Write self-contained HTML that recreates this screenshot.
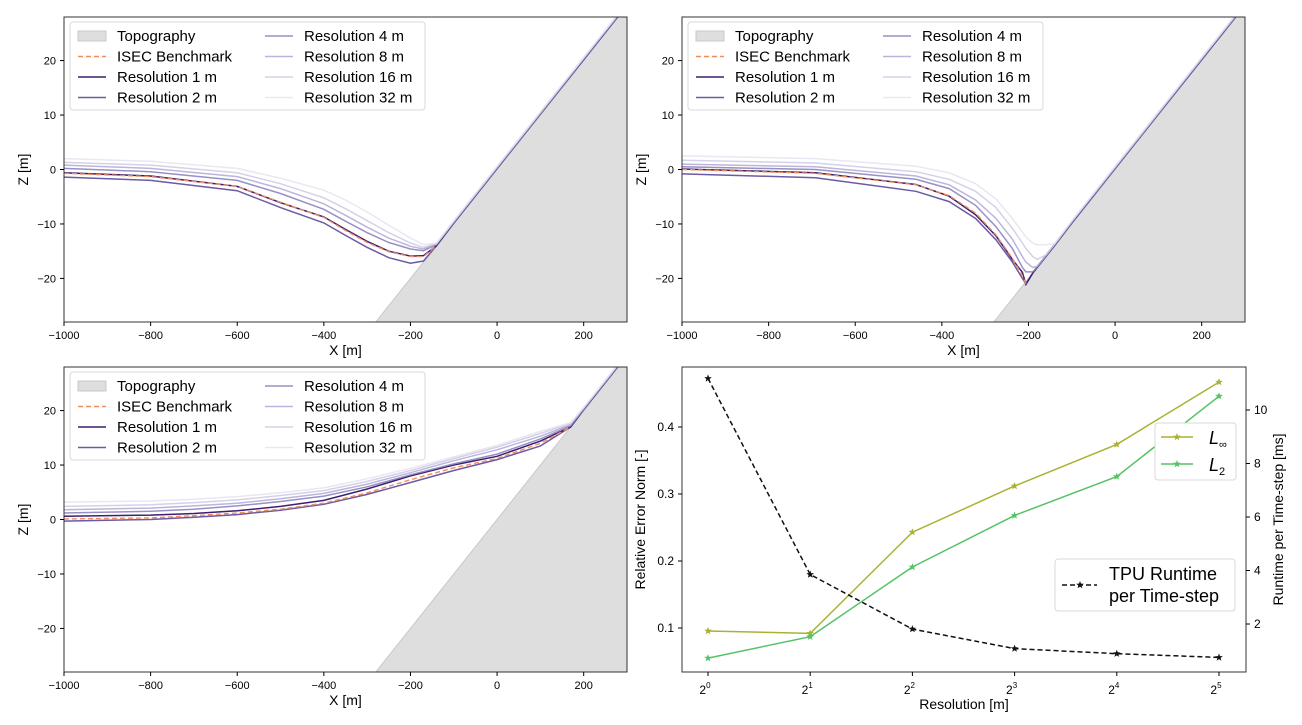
<!DOCTYPE html>
<html><head><meta charset="utf-8"><style>
body{margin:0;background:#fff;}
svg{display:block;font-family:"Liberation Sans","DejaVu Sans",sans-serif;}
</style></head><body>
<svg id="fig" width="1302" height="725" viewBox="0 0 1302 725"></svg>
<script>
// ---------- data ----------
const xTicks = [-1000,-800,-600,-400,-200,0,200];
const zTicks = [-20,-10,0,10,20];
const seriesNames = ["ISEC Benchmark","Resolution 1 m","Resolution 2 m","Resolution 4 m","Resolution 8 m","Resolution 16 m","Resolution 32 m"];
// panel A
const pAx = [-1000,-800,-600,-500,-400,-350,-300,-250,-200,-170,-140,-100,0,100,200,300];
const pA_isec = [-0.7,-1.3,-3.1,-6.0,-8.8,-11.2,-13.4,-15.1,-16.0,-16.0,-14];
const pA_r1 = [-0.6,-1.2,-3.1,-6.1,-8.7,-11.0,-13.2,-15.0,-15.9,-15.8,-14,-9.8,0.2,10.2,20.2,30.2];
const pA_r2 = [-1.4,-2.0,-3.9,-7.0,-9.8,-12.1,-14.3,-16.2,-17.2,-16.8,-14,-9.8,0.2,10.2,20.2,30.2];
const pA_r4 = [0.2,-0.4,-2.0,-4.4,-7.3,-9.5,-11.6,-13.4,-14.6,-14.9,-13.8,-9.7,0.3,10.3,20.3,30.3];
const pA_r8 = [0.8,0.2,-1.3,-3.5,-6.3,-8.4,-10.6,-12.6,-14.1,-14.6,-13.7,-9.6,0.4,10.4,20.4,30.4];
const pA_r16 = [1.3,0.8,-0.6,-2.6,-5.2,-7.2,-9.4,-11.6,-13.5,-14.3,-13.6,-9.5,0.5,10.5,20.5,30.5];
const pA_r32 = [2.0,1.5,0.2,-1.6,-3.8,-5.6,-7.8,-10.2,-12.6,-13.8,-13.5,-9.4,0.6,10.6,20.6,30.6];
// panel B
const pBx = [-1000,-692,-460,-383,-322,-275,-237,-214,-206,-190,-180,-160,-140,-100,0,100,200,300];
const pB_isec = [0.0,-0.7,-2.8,-4.8,-8.0,-12.0,-16.3,-19.5,-21.0];
const pB_r1 = [0.1,-0.6,-2.75,-4.9,-8.3,-12.2,-16.5,-18.9,-21.1,-19.0,-18.0,-16.0,-14,-9.8,0.2,10.2,20.2,30.2];
const pB_r2 = [-0.8,-1.5,-4.0,-5.9,-9.0,-12.9,-17.0,-20.0,-21.0,-19.0,-18.0,-16.0,-14,-9.8,0.2,10.2,20.2,30.2];
const pB_r4 = [0.5,0.0,-1.8,-3.5,-6.6,-10.5,-14.5,-18.0,-18.8,-18.8,-17.9,-15.9,-13.9,-9.7,0.3,10.3,20.3,30.3];
const pB_r8 = [1.0,0.5,-1.2,-2.8,-5.6,-9.0,-12.8,-16.0,-17.0,-18.0,-17.8,-15.8,-13.8,-9.6,0.4,10.4,20.4,30.4];
const pB_r16 = [1.7,1.2,-0.4,-1.8,-4.0,-7.0,-10.8,-13.5,-14.5,-16.0,-16.5,-15.7,-13.7,-9.5,0.5,10.5,20.5,30.5];
const pB_r32 = [2.5,2.0,0.6,-0.6,-2.6,-5.4,-9.0,-11.5,-12.4,-13.5,-13.8,-13.8,-13.6,-9.4,0.6,10.6,20.6,30.6];
// panel C
const pCx = [-1000,-800,-700,-600,-500,-400,-300,-200,-100,0,100,170,200,300];
const pC_isec = [0.1,0.3,0.7,1.2,1.9,3.0,4.9,7.3,9.5,11.2,14.0,17.0];
const pC_r1 = [0.6,0.8,1.1,1.6,2.4,3.5,5.6,8.0,10.0,11.6,14.4,17.0,20.2,30.2];
const pC_r2 = [-0.3,0.0,0.4,0.9,1.7,2.8,4.6,6.8,9.0,11.0,13.5,17.0,20.2,30.2];
const pC_r4 = [1.2,1.5,1.9,2.5,3.3,4.3,6.0,8.2,10.2,12.0,14.8,17.2,20.3,30.3];
const pC_r8 = [1.8,2.1,2.5,3.0,3.8,4.8,6.5,8.6,10.8,12.8,15.3,17.4,20.4,30.4];
const pC_r16 = [2.4,2.7,3.1,3.6,4.4,5.3,7.0,9.0,11.2,13.3,15.8,17.6,20.5,30.5];
const pC_r32 = [3.2,3.4,3.7,4.2,4.9,5.8,7.5,9.4,11.5,13.6,16.2,17.8,20.6,30.6];
// topography
const topoX = [-1000,-280,300];
const topoZ = [-28,-28,30];
// panel D
const resExp = [0,1,2,3,4,5];
const errLinf = [0.0955,0.092,0.243,0.312,0.374,0.467];
const errL2 = [0.055,0.087,0.191,0.268,0.326,0.446];
const runtime = [11.18,3.85,1.81,1.08,0.89,0.75];
const errTicks = [0.1,0.2,0.3,0.4];
const rtTicks = [2,4,6,8,10];

const NS="http://www.w3.org/2000/svg";
const svg=document.getElementById('fig');
function mk(tag,attrs,parent){const e=document.createElementNS(NS,tag);for(const k in attrs)e.setAttribute(k,attrs[k]);(parent||svg).appendChild(e);return e;}
function txt(s,x,y,size,anchor,parent,rot){const t=mk('text',{x:x,y:y,'font-size':size,'text-anchor':anchor||'middle',fill:'#000'},parent);if(rot)t.setAttribute('transform','rotate(-90 '+x+' '+y+')');t.textContent=s;return t;}

const styles=[
 {c:'#f28e5c',w:1.4,d:'5,3',o:1},
 {c:'#3b1f73',w:1.5,d:'',o:1},
 {c:'#6b5aa6',w:1.5,d:'',o:1},
 {c:'#8c84bd',w:1.5,d:'',o:0.9},
 {c:'#aaa3d2',w:1.5,d:'',o:0.8},
 {c:'#c9c5e2',w:1.5,d:'',o:0.8},
 {c:'#e6e4f1',w:1.5,d:'',o:0.9}];

function profilePanel(name,L,T,xs,series){
  const W=563,H=305;
  const sx=v=>L+(v+1000)/1300*W;
  const sz=v=>T+H/2-v*H/56;
  const g=mk('g',{});
  const cp='clip-'+name;
  const cdef=mk('clipPath',{id:cp},g);mk('rect',{x:L,y:T,width:W,height:H},cdef);
  const plot=mk('g',{'clip-path':'url(#'+cp+')'},g);
  let d='M'+topoX.map((x,i)=>sx(x)+','+sz(topoZ[i])).join(' L')+' L'+sx(300)+','+sz(-28)+' Z';
  const topo=mk('path',{d:d,fill:'#dedede',stroke:'#c8c8c8','stroke-width':1},plot);
  
  
  const order=[2,1,3,4,5,6,0];
  order.forEach(s=>{
    const st=styles[s];
    const vals=series[s];
    const p=mk('path',{d:'M'+vals.map((v,i)=>sx(xs[i]).toFixed(1)+','+sz(v).toFixed(1)).join(' L'),fill:'none',stroke:st.c,'stroke-width':st.w,'stroke-dasharray':st.d,'stroke-opacity':st.o},plot);
    
    
  });
  mk('rect',{x:L,y:T,width:W,height:H,fill:'none',stroke:'#333','stroke-width':1},g);
  xTicks.forEach(v=>{const x=sx(v);mk('line',{x1:x,x2:x,y1:T+H,y2:T+H+4,stroke:'#000'},g);txt(v<0?'\u2212'+(-v):String(v),x,T+H+17,11,'middle',g);});
  zTicks.forEach(v=>{const y=sz(v);mk('line',{x1:L-4,x2:L,y1:y,y2:y,stroke:'#000'},g);txt(v<0?'\u2212'+(-v):String(v),L-8,y+4,11,'end',g);});
  const xl=txt('X [m]',L+W/2,T+H+33,14,'middle',g);
  const yl=txt('Z [m]',L-36,T+H/2,14,'middle',g,true);
  const lg=mk('g',{},g);
  mk('rect',{x:L+6,y:T+5,width:355,height:88,rx:3,fill:'#fff','fill-opacity':0.85,stroke:'#d8d8d8'},lg);
  const items=[['Topography',-1],[seriesNames[0],0],[seriesNames[1],1],[seriesNames[2],2],[seriesNames[3],3],[seriesNames[4],4],[seriesNames[5],5],[seriesNames[6],6]];
  items.forEach((it,i)=>{
    const col=i<4?0:1,row=i%4;
    const hx=L+14+col*187,ty=T+19+row*20.5;
    const e=mk('g',{},lg);
    
    
    if(it[1]<0) mk('rect',{x:hx,y:ty-5,width:28,height:10,fill:'#dedede',stroke:'#c8c8c8'},e);
    else {const st=styles[it[1]];mk('line',{x1:hx,x2:hx+28,y1:ty,y2:ty,stroke:st.c,'stroke-width':st.w,'stroke-dasharray':st.d,'stroke-opacity':st.o},e);}
    txt(it[0],hx+39,ty+5,15,'start',e);
  });
}
profilePanel('panel-top-left',64,17,pAx,[pA_isec,pA_r1,pA_r2,pA_r4,pA_r8,pA_r16,pA_r32]);
profilePanel('panel-top-right',682,17,pBx,[pB_isec,pB_r1,pB_r2,pB_r4,pB_r8,pB_r16,pB_r32]);
profilePanel('panel-bottom-left',64,367,pCx,[pC_isec,pC_r1,pC_r2,pC_r4,pC_r8,pC_r16,pC_r32]);

// panel D
(function(){
  const L=682,T=367,W=564,H=305;
  const sx=e=>708+e*102.2;
  const se=v=>628-(v-0.1)*670;
  const sr=v=>624-(v-2)*26.75;
  const g=mk('g',{});
  function star(x,y,c,parent){const pts=[];for(let i=0;i<10;i++){const r=i%2?1.7:4;const a=-Math.PI/2+i*Math.PI/5;pts.push((x+r*Math.cos(a)).toFixed(1)+','+(y+r*Math.sin(a)).toFixed(1));}return mk('polygon',{points:pts.join(' '),fill:c},parent);}
  function series(vals,scale,c,dash,name){
    const p=mk('path',{d:'M'+resExp.map((e,i)=>sx(e)+','+scale(vals[i]).toFixed(1)).join(' L'),fill:'none',stroke:c,'stroke-width':1.5,'stroke-dasharray':dash},g);
    
    
    resExp.forEach((e,i)=>{const s=star(sx(e),scale(vals[i]),c,g);});
  }
  series(errLinf,se,'#aab232','','line-l-inf');
  series(errL2,se,'#55c266','','line-l2');
  series(runtime,sr,'#111','5,3','line-tpu-runtime');
  mk('rect',{x:L,y:T,width:W,height:H,fill:'none',stroke:'#333'},g);
  resExp.forEach(e=>{const x=sx(e);mk('line',{x1:x,x2:x,y1:T+H,y2:T+H+4,stroke:'#000'},g);const t=txt('2',x-3,T+H+22,12,'middle',g);const s=mk('tspan',{dy:-6,'font-size':8},t);s.textContent=String(e);});
  errTicks.forEach(v=>{const y=se(v);mk('line',{x1:L-4,x2:L,y1:y,y2:y,stroke:'#000'},g);txt(String(v),L-8,y+4,12,'end',g);});
  rtTicks.forEach(v=>{const y=sr(v);mk('line',{x1:L+W,x2:L+W+4,y1:y,y2:y,stroke:'#000'},g);txt(String(v),L+W+8,y+4,12,'start',g);});
  const xl=txt('Resolution [m]',L+W/2,T+H+37,14,'middle',g);
  const yl=txt('Relative Error Norm [-]',L-37,T+H/2,14,'middle',g,true);
  const yr=txt('Runtime per Time-step [ms]',L+W+37,T+H/2,14,'middle',g,true);
  const lg1=mk('g',{},g);
  mk('rect',{x:1155,y:423,width:81,height:57,rx:3,fill:'#fff',stroke:'#d8d8d8'},lg1);
  mk('line',{x1:1161,x2:1193,y1:437,y2:437,stroke:'#aab232','stroke-width':1.5},lg1);star(1177,437,'#aab232',lg1);
  mk('line',{x1:1161,x2:1193,y1:464,y2:464,stroke:'#55c266','stroke-width':1.5},lg1);star(1177,464,'#55c266',lg1);
  const t1=txt('L',1209,444,18,'start',lg1);t1.setAttribute('font-style','italic');const s1=mk('tspan',{dy:4,'font-size':11,'font-style':'normal'},t1);s1.textContent='\u221e';
  const t2=txt('L',1209,471,18,'start',lg1);t2.setAttribute('font-style','italic');const s2=mk('tspan',{dy:4,'font-size':11,'font-style':'normal'},t2);s2.textContent='2';
  const lg2=mk('g',{},g);
  mk('rect',{x:1055,y:559,width:180,height:52,rx:3,fill:'#fff',stroke:'#d8d8d8'},lg2);
  mk('line',{x1:1062,x2:1097,y1:585,y2:585,stroke:'#111','stroke-width':1.5,'stroke-dasharray':'5,3'},lg2);star(1080,585,'#111',lg2);
  txt('TPU Runtime',1109,580,18,'start',lg2);
  txt('per Time-step',1109,602,18,'start',lg2);
})();
</script>
</body></html>
